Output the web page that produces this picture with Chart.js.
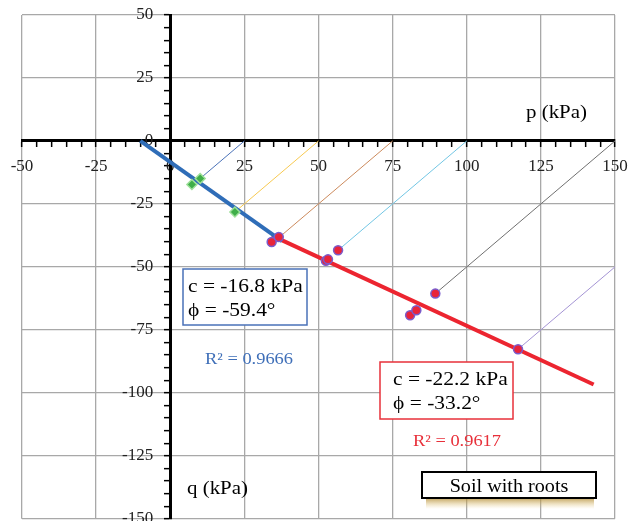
<!DOCTYPE html>
<html>
<head>
<meta charset="utf-8">
<script src="https://cdn.jsdelivr.net/npm/chart.js@4.4.1/dist/chart.umd.min.js"></script>
<style>
  html, body { margin: 0; padding: 0; background: #fff; overflow: hidden; }
</style>
</head>
<body>
<canvas id="chart" width="638" height="532"></canvas>
<script>
// stress paths: start on the p axis, end at the last measured point
const pathStartP = [25, 50, 75, 100, 150, 200];
const pathEndP = [10.1, 21.8, 36.8, 56.6, 89.4, 117.3];
const pathEndQ = [-14.9, -28.2, -38.2, -43.4, -60.6, -82.7];
const pathColors = ['#4a72b8', '#f7c950', '#cc8a5c', '#72c6e4', '#707070', '#a494d4'];

// measured points
const greenP = [7.3, 10.1, 21.8];
const greenQ = [-17.3, -14.9, -28.2];
const redP = [34.2, 36.6, 52.5, 53.2, 56.6, 80.9, 83.0, 89.4, 117.3];
const redQ = [-40.1, -38.1, -47.6, -47.0, -43.4, -69.2, -67.2, -60.6, -82.7];

// fitted failure lines
const blueFitP = [-10.1, 37.7];
const blueFitQ = [0, -39.8];
const redFitP = [34.3, 142.8];
const redFitQ = [-37.6, -96.7];

const tickLabels = [-150, -125, -100, -75, -50, -25, 0, 25, 50, 75, 100, 125, 150];

function pts(ps, qs) {
    return ps.map((p, i) => ({ x: p, y: qs[i] }));
}

const datasets = [];

datasets.push({
    data: pts(redP, redQ),
    showLine: false,
    pointRadius: 4.5,
    pointBackgroundColor: '#e8243a',
    pointBorderColor: '#7a5ccc',
    pointBorderWidth: 1.5
});
datasets.push({
    data: pts(greenP, greenQ),
    showLine: false,
    pointStyle: 'rectRot',
    pointRadius: 5,
    pointBackgroundColor: '#3fae49',
    pointBorderColor: '#9ee09a',
    pointBorderWidth: 1.5
});
datasets.push({
    data: pts(blueFitP, blueFitQ),
    showLine: true,
    borderColor: '#2f6db8',
    borderWidth: 4,
    pointRadius: 0
});
datasets.push({
    data: pts(redFitP, redFitQ),
    showLine: true,
    borderColor: '#ec2530',
    borderWidth: 4,
    pointRadius: 0
});
pathStartP.forEach((p, i) => {
    datasets.push({
        data: [{ x: p, y: 0 }, { x: pathEndP[i], y: pathEndQ[i] }],
        showLine: true,
        borderColor: pathColors[i],
        borderWidth: 1,
        pointRadius: 0
    });
});

function gridColor(ctx) {
    return ctx.tick && tickLabels.includes(ctx.tick.value) ? '#a8a8a8' : 'transparent';
}

function xLabel(v) {
    return tickLabels.includes(v) ? v : '';
}

// y labels are drawn right-aligned on the axis itself, so pad them
function yLabel(v) {
    return tickLabels.includes(v) ? v + '\u2002\u2002' : '';
}

// text drawn slightly stretched, like the original figure
function text(ctx, str, x, y, size, color, sx, align) {
    ctx.save();
    ctx.translate(x, y);
    ctx.scale(sx, 1);
    ctx.font = size + 'px "Liberation Serif", "Times New Roman", serif';
    ctx.fillStyle = color;
    ctx.textAlign = align || 'left';
    ctx.textBaseline = 'alphabetic';
    ctx.fillText(str, 0, 0);
    ctx.restore();
}

const notes = {
    id: 'notes',
    afterDraw(chart) {
        const ctx = chart.ctx;
        ctx.save();

        // blue box
        ctx.fillStyle = '#fff';
        ctx.fillRect(183, 269, 124, 56);
        ctx.strokeStyle = '#4a72b8';
        ctx.lineWidth = 1.5;
        ctx.strokeRect(183, 269, 124, 56);
        text(ctx, 'c = -16.8 kPa', 188, 292, 19, '#000', 1.13);
        text(ctx, '\u03D5 = -59.4\u00B0', 188, 316, 19, '#000', 1.13);
        text(ctx, 'R\u00B2 = 0.9666', 249, 364, 16, '#3f6fb8', 1.15, 'center');

        // red box
        ctx.fillStyle = '#fff';
        ctx.fillRect(380, 362, 133, 57);
        ctx.strokeStyle = '#e8303a';
        ctx.lineWidth = 1.5;
        ctx.strokeRect(380, 362, 133, 57);
        text(ctx, 'c = -22.2 kPa', 393, 385, 19, '#000', 1.13);
        text(ctx, '\u03D5 = -33.2\u00B0', 393, 409, 19, '#000', 1.13);
        text(ctx, 'R\u00B2 = 0.9617', 457, 446, 16, '#e8303a', 1.15, 'center');

        // axis names
        text(ctx, 'p (kPa)', 526, 118, 19, '#000', 1.1);
        text(ctx, 'q (kPa)', 187, 494, 19, '#000', 1.1);

        // legend box with a soft golden shadow under it
        const g = ctx.createLinearGradient(0, 497, 0, 509);
        g.addColorStop(0, 'rgba(170, 130, 40, 0.85)');
        g.addColorStop(1, 'rgba(230, 200, 120, 0)');
        ctx.fillStyle = g;
        ctx.fillRect(426, 497, 168, 12);
        ctx.fillStyle = '#fff';
        ctx.fillRect(422, 472, 174, 26);
        ctx.strokeStyle = '#000';
        ctx.lineWidth = 2;
        ctx.strokeRect(422, 472, 174, 26);
        text(ctx, 'Soil with roots', 509, 492, 18, '#000', 1.12, 'center');

        ctx.restore();
    }
};

new Chart(document.getElementById('chart'), {
    type: 'scatter',
    data: { datasets: datasets },
    options: {
        responsive: false,
        animation: false,
        layout: { padding: { left: 22, right: 23, top: 15, bottom: 12 } },
        plugins: {
            legend: { display: false },
            tooltip: { enabled: false }
        },
        scales: {
            x: {
                type: 'linear',
                min: -50,
                max: 150,
                position: { y: 0 },
                ticks: {
                    stepSize: 5,
                    autoSkip: false,
                    maxRotation: 0,
                    padding: 10,
                    color: '#222',
                    font: { family: '"Liberation Serif"', size: 17 },
                    callback: xLabel
                },
                grid: {
                    color: gridColor,
                    lineWidth: 1.3,
                    tickColor: '#000',
                    tickLength: 5,
                    tickWidth: 1.5
                },
                border: { color: '#000', width: 3 }
            },
            y: {
                type: 'linear',
                min: -150,
                max: 50,
                position: { x: 0 },
                ticks: {
                    stepSize: 5,
                    autoSkip: false,
                    color: '#222',
                    font: { family: '"Liberation Serif"', size: 17 },
                    callback: yLabel
                },
                grid: {
                    color: gridColor,
                    lineWidth: 1.3,
                    tickColor: '#000',
                    tickLength: 5,
                    tickWidth: 1.5
                },
                border: { color: '#000', width: 3 }
            }
        }
    },
    plugins: [notes]
});
</script>
</body>
</html>
